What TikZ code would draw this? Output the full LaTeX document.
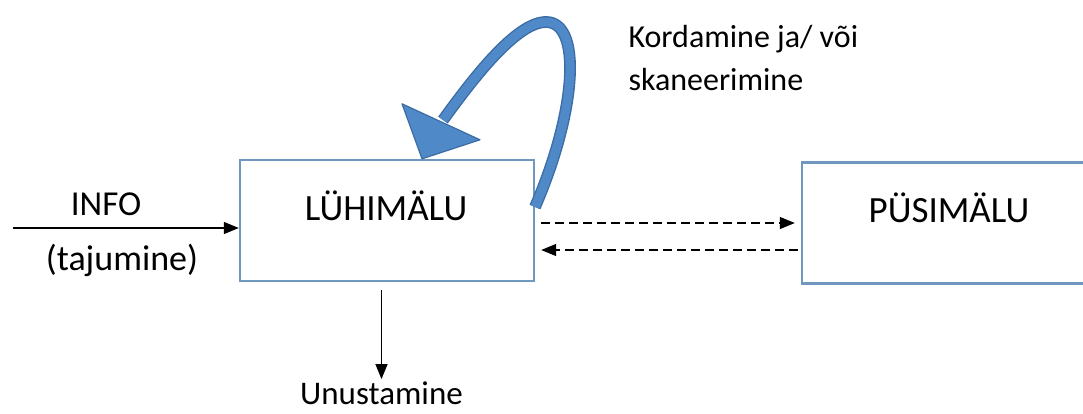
\documentclass[tikz,border=0pt]{standalone}
\usepackage{fontspec}
\setmainfont{Carlito}
\usetikzlibrary{arrows.meta}
\definecolor{boxline}{RGB}{112,152,190}
\definecolor{loopfill}{RGB}{80,137,200}
\definecolor{loopedge}{RGB}{60,108,165}
\begin{document}
\begin{tikzpicture}[x=1pt,y=-1pt,
  memory/.style={draw=boxline, line width=2.4pt, minimum width=294pt,
    minimum height=121pt, inner sep=0pt},
  boxtext/.style={anchor=base, font=\fontsize{37}{44}\selectfont},
  note/.style={font=\fontsize{#1}{43}\selectfont},
  flow/.style={-{Triangle[length=15pt,width=12pt]}, line width=1.3pt},
  link/.style={flow, dash pattern=on 9pt off 5pt},
  loopshaft/.style={line width=1.4pt, draw=loopedge, double=loopfill,
    double distance=9pt},
  loophead/.style={fill=loopfill, draw=loopedge, line width=1.2pt, line join=round}]
\useasboundingbox (0,0) rectangle (1083,413);
\clip (0,0) rectangle (1083,413);

% the two memory stores
\node[memory] (lyhi) at (387,220.5) {};
\node[memory] (pysi) at (949,223) {};
\node[boxtext] (lyhitxt) at (386,220) {LÜHIMÄLU};
\node[boxtext] (pysitxt) at (949,222) {PÜSIMÄLU};

% incoming information
\coordinate (infofrom) at (13,228);
\draw[flow] (infofrom) -- (lyhi.west |- infofrom);
\node[note=35, anchor=base] (info) at (106,215) {INFO};
\node[note=36, anchor=base] (tajum) at (122,270) {(tajumine)};

% exchange between the stores
\coordinate (upper) at (0,223);
\coordinate (lower) at (0,250);
\draw[link, shorten <=6pt, shorten >=6pt] (lyhi.east |- upper) -- (pysi.west |- upper);
\draw[link, shorten <=3pt, shorten >=6pt] (pysi.west |- lower) -- (lyhi.east |- lower);

% forgetting
\node[note=33, anchor=base, inner sep=1pt] (unust) at (381.5,404) {Unustamine};
\draw[flow, shorten <=8pt, shorten >=1pt] (lyhi.south -| unust.north) -- (unust.north);

% rehearsal loop
\coordinate (loopfrom) at (535,207);
\coordinate (looptip) at ([xshift=35pt]lyhi.north);
\draw[loopshaft] (loopfrom) .. controls (577,110) and (582,22) .. (546,22)
  .. controls (516,22) and (472,80) .. (443,120);
\path[loophead] (looptip) -- ++(-20,-55) -- ++(78,36) -- cycle;
\node[note=32, anchor=base west, align=left] (kord) at (625,90)
  {Kordamine ja/ või\\skaneerimine};
\end{tikzpicture}
\end{document}
